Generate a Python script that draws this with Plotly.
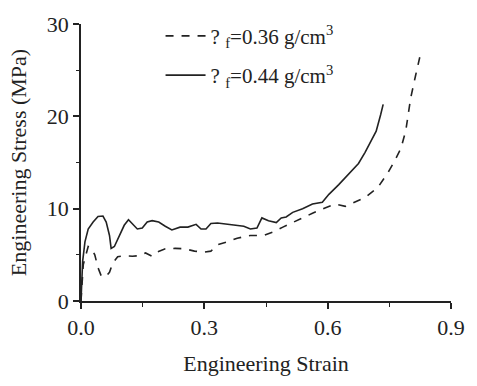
import plotly.graph_objects as go

# Compressive stress-strain curves for two foam densities
strain_036 = [0.0, 0.0056, 0.012, 0.0175, 0.0255, 0.0335, 0.0414, 0.0494, 0.0597, 0.0693,
              0.0773, 0.0892, 0.1051, 0.125, 0.141, 0.157, 0.173, 0.185, 0.205, 0.229,
              0.252, 0.276, 0.300, 0.316, 0.332, 0.356, 0.380, 0.412, 0.444, 0.468,
              0.491, 0.523, 0.563, 0.595, 0.619, 0.643, 0.667, 0.691, 0.722, 0.746,
              0.762, 0.778, 0.790, 0.802, 0.814, 0.824]
stress_036 = [0.0, 3.96, 5.0, 5.9, 5.7, 5.0, 3.6, 2.7, 2.6, 3.1,
              4.1, 4.8, 4.9, 4.85, 4.9, 5.2, 4.85, 5.3, 5.65, 5.7,
              5.65, 5.4, 5.3, 5.4, 6.1, 6.4, 6.8, 7.1, 7.1, 7.5,
              8.0, 8.7, 9.5, 10.1, 10.5, 10.25, 10.7, 11.2, 12.3, 13.85,
              15.1, 16.5, 18.45, 22.0, 24.45, 26.4]

strain_044 = [0.0, 0.004, 0.0096, 0.0175, 0.0295, 0.0414, 0.0534, 0.0613, 0.0693, 0.0733,
              0.0812, 0.0932, 0.1051, 0.1155, 0.125, 0.137, 0.149, 0.161, 0.173, 0.189,
              0.205, 0.221, 0.241, 0.260, 0.280, 0.292, 0.304, 0.316, 0.332, 0.364,
              0.396, 0.412, 0.428, 0.440, 0.456, 0.475, 0.487, 0.499, 0.515, 0.539,
              0.563, 0.587, 0.603, 0.627, 0.651, 0.675, 0.691, 0.706, 0.718, 0.729, 0.735]
stress_044 = [0.0, 4.3, 6.4, 7.8, 8.55, 9.15, 9.2, 8.55, 7.1, 5.7,
              5.9, 7.1, 8.2, 8.8, 8.4, 7.8, 7.9, 8.55, 8.7, 8.55,
              8.1, 7.7, 8.0, 8.0, 8.3, 7.8, 7.8, 8.4, 8.45, 8.3,
              8.1, 7.8, 7.9, 9.0, 8.7, 8.5, 9.0, 9.1, 9.6, 10.0,
              10.5, 10.7, 11.55, 12.6, 13.7, 14.9, 16.1, 17.4, 18.4, 20.2, 21.3]

x_ticks = [0.0, 0.3, 0.6, 0.9]
x_labels = ["0.0", "0.3", "0.6", "0.9"]
y_ticks = [0, 10, 20, 30]
y_labels = ["0", "10", "20", "30"]

FONT = "Liberation Serif, Times New Roman, serif"
INK = "#222222"
SIZE = 22

fig = go.Figure()
fig.add_trace(go.Scatter(
    x=strain_036, y=stress_036, mode="lines",
    name="? <sub>f</sub>=0.36 g/cm<sup>3</sup>", legendgroup="a",
    line=dict(color=INK, width=1.6, dash="8px,8px"),
))
fig.add_trace(go.Scatter(
    x=strain_044, y=stress_044, mode="lines",
    name="? <sub>f</sub>=0.44 g/cm<sup>3</sup>", legendgroup="b",
    line=dict(color=INK, width=1.6),
))

axis_common = dict(
    showgrid=False, zeroline=False, showline=True, linecolor=INK, linewidth=1.5,
    ticks="outside", ticklen=6, tickwidth=1.5, tickcolor=INK,
    tickfont=dict(family=FONT, size=SIZE, color=INK),
)

fig.update_layout(
    width=477, height=386,
    margin=dict(l=81, r=19, t=18, b=85),
    paper_bgcolor="white", plot_bgcolor="white",
    font=dict(family=FONT, color=INK),
    xaxis=dict(
        range=[0, 0.9], tickvals=x_ticks, ticktext=x_labels,
        title=dict(text="Engineering Strain", font=dict(family=FONT, size=SIZE, color=INK), standoff=16),
        minor=dict(tickvals=[0.15, 0.45, 0.75], ticks="outside", ticklen=4, tickwidth=1.2, tickcolor=INK),
        **axis_common,
    ),
    yaxis=dict(
        range=[0, 30], tickvals=y_ticks, ticktext=y_labels,
        title=dict(text="Engineering Stress (MPa)", font=dict(family=FONT, size=SIZE, color=INK), standoff=14),
        minor=dict(tickvals=[5, 15, 25], ticks="outside", ticklen=3, tickwidth=1.2, tickcolor=INK),
        **axis_common,
    ),
    legend=dict(
        x=0.215, y=1.03, xanchor="left", yanchor="top",
        bgcolor="rgba(0,0,0,0)", font=dict(family=FONT, size=21, color=INK),
        tracegroupgap=9, itemwidth=40,
    ),
    showlegend=True,
)

fig.write_html("out.html")
